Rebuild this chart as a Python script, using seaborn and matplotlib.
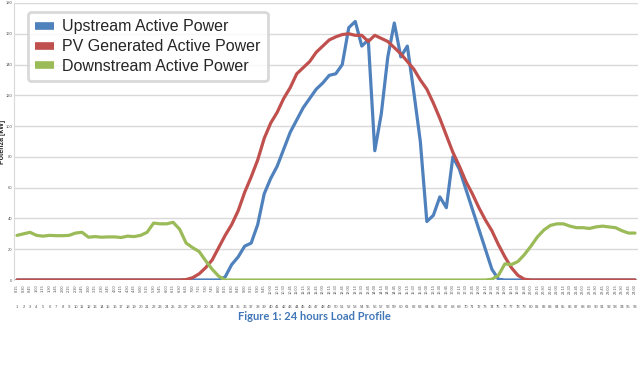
import numpy as np
import pandas as pd
import seaborn as sns
import matplotlib.pyplot as plt
from matplotlib.lines import Line2D

# 96 quarter-hour steps over the day
steps = list(range(1, 97))
times = [f"{(k * 15) // 60}:{(k * 15) % 60:02d}" for k in steps]

upstream = [0] * 32 + [
    2, 10, 15, 22, 24, 36, 56, 66, 74, 85, 96, 104, 112, 118, 124, 128,
    133, 134, 140, 164, 168, 152, 156, 84, 108, 145, 167, 145, 152, 122,
    90, 38, 42, 54, 47, 80, 72, 59, 46, 33, 20, 7, 0.5,
] + [0] * 21

pv_generated = [0] * 26 + [
    0.3, 1.5, 4, 8, 13, 21, 29, 36, 45, 57, 67, 78, 92, 102, 109, 118,
    125, 134, 138, 142, 148, 152, 156, 158, 159.5, 160, 159, 159, 155,
    159, 157, 155, 151, 147, 142, 137, 130, 124, 115, 105, 94, 83, 74,
    64, 56, 47, 39, 32, 23, 15, 8, 3, 0.5,
] + [0] * 17

downstream = [
    29, 30, 31, 29, 28.5, 29, 28.8, 28.8, 29, 30.5, 31, 27.8, 28.2, 27.8,
    28, 28, 27.6, 28.5, 28.2, 29, 31, 37, 36.5, 36.5, 37.5, 33, 24, 21,
    18.5, 12.5, 7, 2.5,
] + [0] * 41 + [
    0.5, 3, 10.5, 10, 12, 16.5, 22, 28, 32.5, 35.5, 36.5, 36.5, 35, 34,
    34, 33.5, 34.5, 35, 34.5, 34, 32, 30.5, 30.5,
]

series = {
    "Upstream Active Power": (upstream, "#4F81BD"),
    "PV Generated Active Power": (pv_generated, "#C0504D"),
    "Downstream Active Power": (downstream, "#9BBB59"),
}

sns.set_style("white")
plt.rcParams['font.family'] = ['Liberation Sans', 'DejaVu Sans']

fig = plt.figure(figsize=(6.42, 3.65), dpi=100)
ax = fig.add_axes([14 / 642, 1 - 280 / 365, 624 / 642, 277 / 365])

handles = []
for name, (vals, col) in series.items():
    df = pd.DataFrame({"step": steps, "kw": vals})
    sns.lineplot(data=df, x="step", y="kw", color=col, linewidth=2.3, ax=ax)
    handles.append(Line2D([], [], color=col, lw=5.5, solid_capstyle='butt', label=name))

ax.set_xlim(0.54, 96.46)
ax.set_ylim(0, 180)
ax.set_yticks(range(0, 181, 20))
ax.yaxis.grid(True, color="#d9d9d9", linewidth=1)
ax.tick_params(axis='y', labelsize=3, pad=1, length=0, colors="#555555")
for s in ["top", "right", "bottom"]:
    ax.spines[s].set_visible(False)
ax.spines["left"].set_color("#d9d9d9")

ax.set_xticks(steps)
ax.set_xticklabels(times, rotation=90, fontsize=2.8, color="#555555")
ax.tick_params(axis='x', length=0, pad=3)
ax.set_xlabel("")
ax.set_ylabel("Potenza [kW]", fontsize=5, fontweight="bold")
ax.yaxis.set_label_coords(-0.0125, 0.5)

sec = ax.secondary_xaxis(-0.09)
sec.set_xticks(steps)
sec.set_xticklabels([str(k) for k in steps], fontsize=3, color="#555555")
sec.tick_params(length=0, pad=0)
sec.spines["bottom"].set_visible(False)

leg = ax.legend(handles=handles, loc="upper left", bbox_to_anchor=(0.022, 0.967),
                fontsize=11.5, frameon=True, fancybox=True, handlelength=1.2,
                handletextpad=0.5, labelspacing=0.3, borderpad=0.45, borderaxespad=0)
leg.get_frame().set_edgecolor("#d0d0d0")
leg.get_frame().set_linewidth(2)

fig.text(0.49, 1 - 316 / 365, "Figure 1: 24 hours Load Profile", ha="center", va="center",
         fontsize=8, fontweight="bold", color="#4177b8", family=["Lato", "DejaVu Sans"])

fig.savefig("out.png", dpi=100)
